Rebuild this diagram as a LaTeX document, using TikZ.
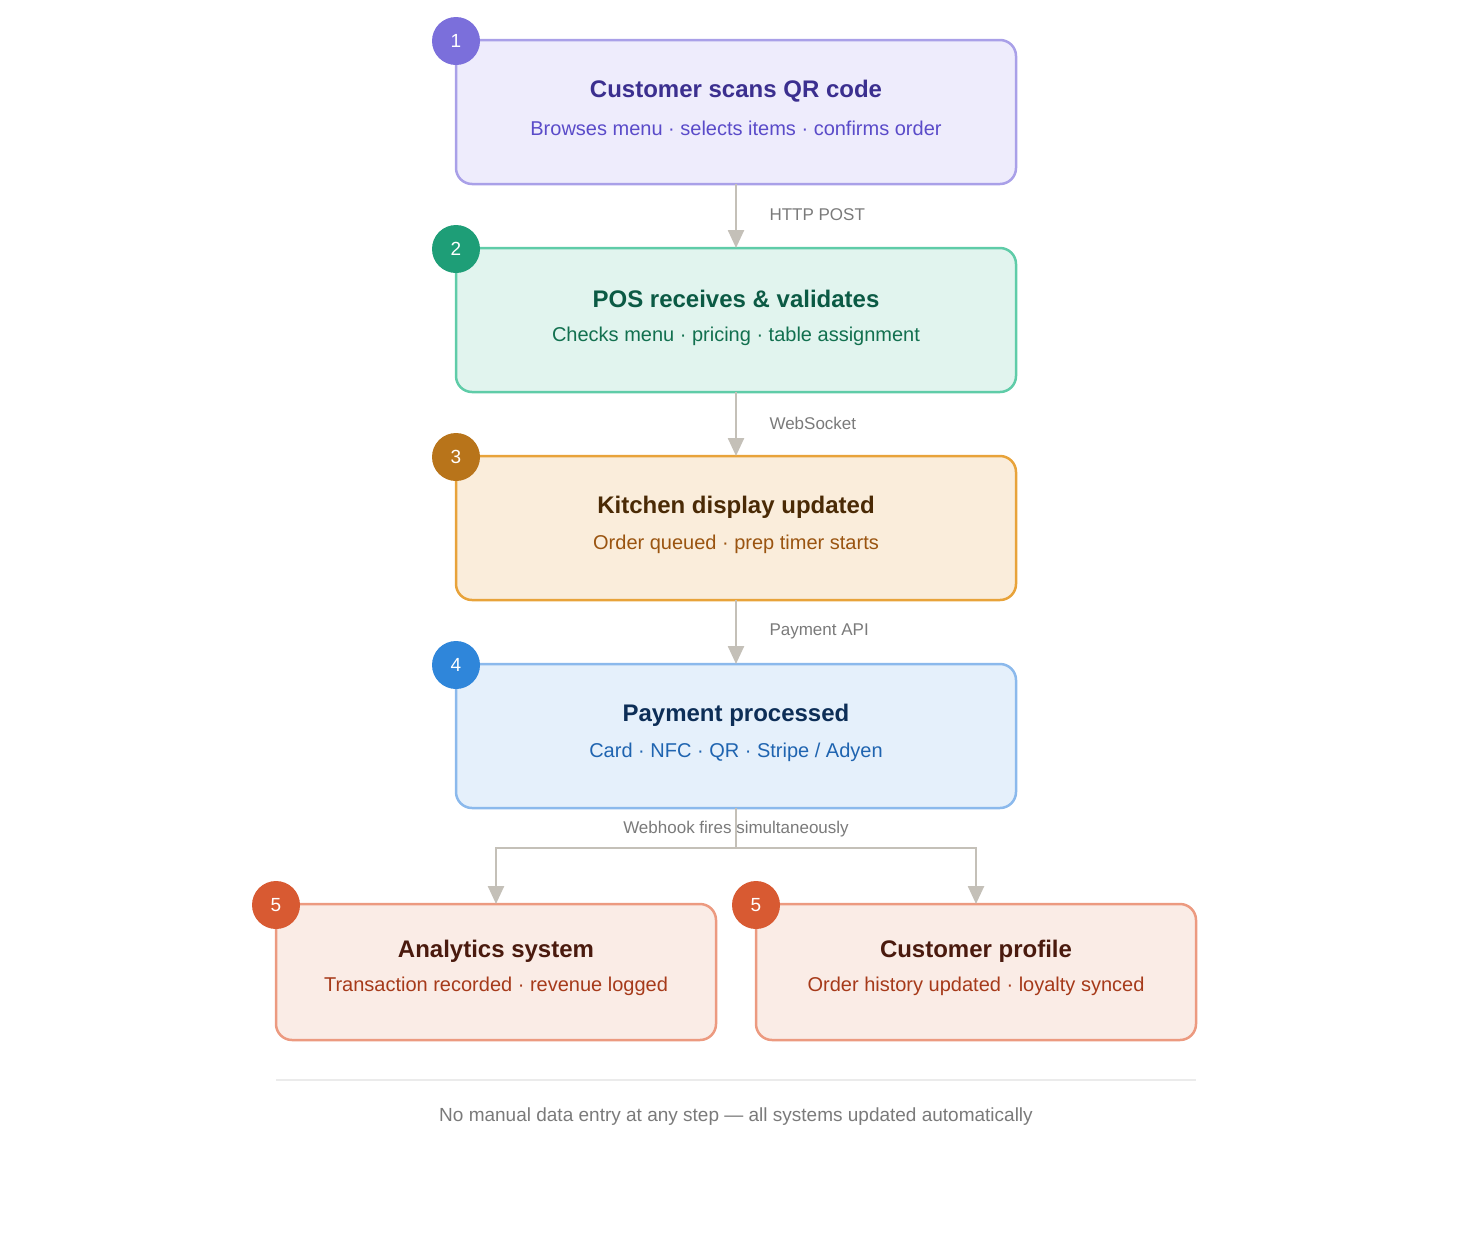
\documentclass[tikz,border=0pt]{standalone}
\usepackage{fontspec}
\setmainfont{Liberation Sans}
\usetikzlibrary{arrows.meta}
\definecolor{conn}{HTML}{C4C0B8}
\definecolor{lbl}{HTML}{7A7A7A}
\definecolor{fillA}{HTML}{EEECFC}\definecolor{lineA}{HTML}{A9A0E8}\definecolor{headA}{HTML}{3B2F8F}\definecolor{subA}{HTML}{5A4BC9}\definecolor{dotA}{HTML}{7B6FDB}
\definecolor{fillB}{HTML}{E1F4EE}\definecolor{lineB}{HTML}{5FCCA8}\definecolor{headB}{HTML}{0B5A44}\definecolor{subB}{HTML}{12704F}\definecolor{dotB}{HTML}{1E9E77}
\definecolor{fillC}{HTML}{FAEDDB}\definecolor{lineC}{HTML}{E8A33A}\definecolor{headC}{HTML}{4A2A05}\definecolor{subC}{HTML}{9A5410}\definecolor{dotC}{HTML}{B8741A}
\definecolor{fillD}{HTML}{E5F0FB}\definecolor{lineD}{HTML}{8BB9EC}\definecolor{headD}{HTML}{0D2E57}\definecolor{subD}{HTML}{1F64B0}\definecolor{dotD}{HTML}{2F86DA}
\definecolor{fillE}{HTML}{FAECE6}\definecolor{lineE}{HTML}{EC9A80}\definecolor{headE}{HTML}{4A1A0E}\definecolor{subE}{HTML}{A63A1A}\definecolor{dotE}{HTML}{D85A32}
\tikzset{
  step/.style={draw=line#1, fill=fill#1, line width=2.5pt, rounded corners=16pt},
  head/.style={text=head#1, font=\fontsize{24}{28}\selectfont\bfseries},
  sub/.style={text=sub#1, font=\fontsize{20}{24}\selectfont},
  dot/.style={circle, fill=dot#1, minimum size=48pt, inner sep=0pt, text=white, font=\fontsize{19}{22}\selectfont},
  flow/.style={draw=conn, line width=2.5pt, -{Triangle[width=16pt,length=18pt]}},
  tag/.style={text=lbl, font=\fontsize{17}{20}\selectfont}
}
\begin{document}
\begin{tikzpicture}[x=1pt,y=-1pt]
\useasboundingbox (0,0) rectangle (1472,1240);
% main steps
\draw[step=A] (456,40) rectangle (1016,184);
\node[head=A] (t1) at (736,91) {Customer scans QR code};
\node[sub=A] (s1) at (736,128) {Browses menu · selects items · confirms order};
\node[dot=A] (n1) at (456,41) {1};
\draw[step=B] (456,248) rectangle (1016,392);
\node[head=B] (t2) at (736,299) {POS receives \& validates};
\node[sub=B] (s2) at (736,336) {Checks menu · pricing · table assignment};
\node[dot=B] (n2) at (456,249) {2};
\draw[step=C] (456,456) rectangle (1016,600);
\node[head=C] (t3) at (736,507) {Kitchen display updated};
\node[sub=C] (s3) at (736,544) {Order queued · prep timer starts};
\node[dot=C] (n3) at (456,457) {3};
\draw[step=D] (456,664) rectangle (1016,808);
\node[head=D] (t4) at (736,715) {Payment processed};
\node[sub=D] (s4) at (736,752) {Card · NFC · QR · Stripe / Adyen};
\node[dot=D] (n4) at (456,665) {4};
% fan-out
\draw[step=E] (276,904) rectangle (716,1040);
\node[head=E] (t5) at (496,951) {Analytics system};
\node[sub=E] (s5) at (496,986) {Transaction recorded · revenue logged};
\node[dot=E] (n5) at (276,905) {5};
\draw[step=E] (756,904) rectangle (1196,1040);
\node[head=E] (t6) at (976,951) {Customer profile};
\node[sub=E] (s6) at (976,986) {Order history updated · loyalty synced};
\node[dot=E] (n6) at (756,905) {5};
% connectors
\coordinate (a1) at (736,184); \coordinate (b1) at (736,248);
\coordinate (a2) at (736,392); \coordinate (b2) at (736,456);
\coordinate (a3) at (736,600); \coordinate (b3) at (736,664);
\coordinate (a4) at (736,808); \coordinate (j) at (736,848);
\coordinate (b5) at (496,904); \coordinate (b6) at (976,904);
\draw[flow] (a1) -- (b1);
\draw[flow] (a2) -- (b2);
\draw[flow] (a3) -- (b3);
\draw[draw=conn, line width=2.5pt] (a4) -- (j);
\draw[flow] (j) -| (b5);
\draw[flow] (j) -| (b6);
\node[tag, anchor=west] (l1) at (766,215) {HTTP POST};
\node[tag, anchor=west] (l2) at (766,423) {WebSocket};
\node[tag, anchor=west] (l3) at (766,631) {Payment API};
\node[tag] (l4) at (736,829) {Webhook fires simultaneously};
% footer
\draw[draw=black!8, line width=1.5pt] (276,1080) -- (1196,1080);
\node[text=lbl, font=\fontsize{19}{22}\selectfont] (foot) at (736,1117) {No manual data entry at any step — all systems updated automatically};
\end{tikzpicture}
\end{document}
